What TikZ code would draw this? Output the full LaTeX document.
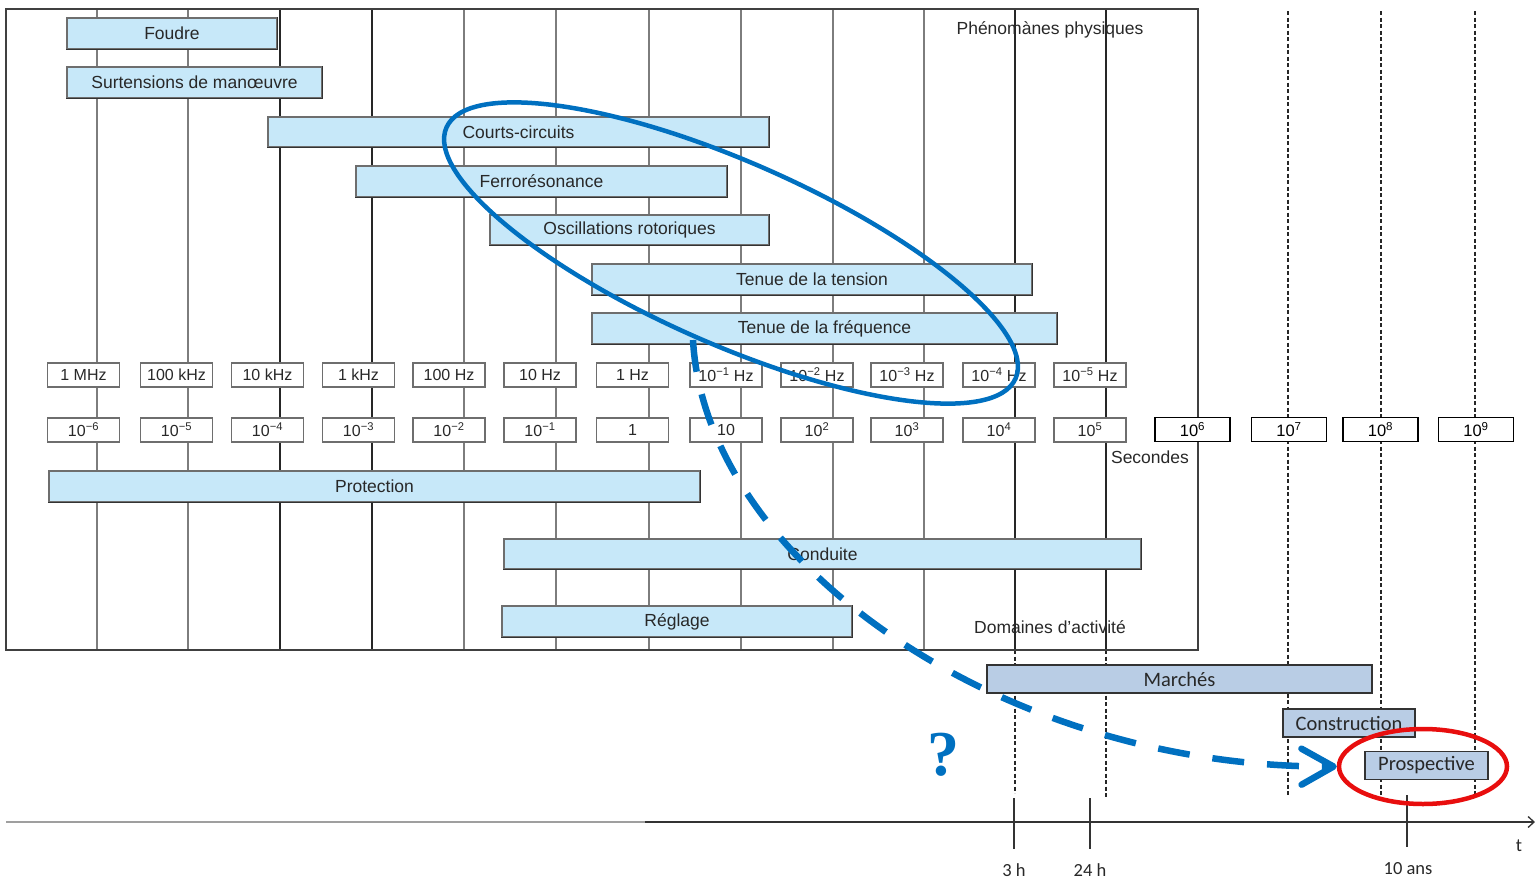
\documentclass[tikz,border=0pt]{standalone}
\usepackage{fontspec}
\setmainfont{Liberation Sans}
\newfontfamily\calfont{Carlito}
\newfontfamily\qfont{Liberation Serif}
\usetikzlibrary{arrows.meta,shapes.geometric}

\definecolor{phenfill}{RGB}{199,232,249}
\definecolor{domfill}{RGB}{185,205,229}
\definecolor{boxedge}{RGB}{110,110,110}
\definecolor{gridgray}{RGB}{125,125,125}
\definecolor{hlblue}{RGB}{0,112,192}
\definecolor{ringred}{RGB}{232,14,14}
\definecolor{ink}{RGB}{40,40,40}

\tikzset{
  bar/.style={draw=boxedge, line width=1.1pt, fill=phenfill, inner sep=0pt, text=ink,
    font=\fontsize{17.5}{20}\selectfont},
  barshade/.style={draw=black!80, line width=1.7pt, line cap=rect},
  tag/.style={draw=boxedge, line width=1.2pt, fill=white, inner sep=0pt,
    minimum width=72pt, minimum height=24pt, text=ink, font=\fontsize{16}{18}\selectfont},
  bigtag/.style={draw=black, line width=1.8pt, fill=white, inner sep=0pt,
    minimum width=75pt, minimum height=24pt, text=black, font=\fontsize{16.5}{18}\selectfont},
  activity/.style={draw=black!80, line width=1.5pt, fill=domfill, inner sep=0pt, text=ink,
    font=\calfont\fontsize{20.5}{24}\selectfont},
  caption/.style={text=ink, inner sep=0pt, font=\fontsize{17.5}{20}\selectfont},
  axislabel/.style={text=ink, inner sep=0pt, font=\calfont\fontsize{18.5}{20}\selectfont},
  gridline/.style={draw=gridgray, line width=1.1pt},
  gridstrong/.style={draw=black!85, line width=1.4pt},
  dashline/.style={draw=black!85, line width=1.3pt, dash pattern=on 4pt off 2.5pt},
  tick/.style={draw=black!80, line width=1.3pt},
  flow/.style={draw=hlblue, line width=6.5pt, dash pattern=on 32pt off 23pt,
    -{Straight Barb[length=32pt 0 0, width=36pt 0 0, line width=6.5pt, round]}},
}

\begin{document}
\begin{tikzpicture}[x=1pt, y=-1pt]
\useasboundingbox (0,0) rectangle (1535,881);

% vertical scale lines inside the frame
\foreach \x in {97,188,464,556,649,741,833,924}
  \draw[gridline] (\x,9) -- (\x,650);
\foreach \x in {280,372,1015,1106}
  \draw[gridstrong] (\x,9) -- (\x,650);

% dashed scale lines for the long time ranges
\foreach \x in {1288,1381,1475}
  \draw[dashline] (\x,11) -- (\x,795);
\draw[dashline] (1015,650) -- (1015,793);
\draw[dashline] (1106,650) -- (1106,797);

% frame of the physical phenomena / activities chart
\draw[draw=black!75, line width=1.6pt] (6,9) rectangle (1198,650);

% physical phenomena
\node[bar, minimum width=210pt, minimum height=31pt] (foudre) at (172,33.5) {Foudre};
\node[bar, minimum width=255pt, minimum height=31pt] (surt) at (194.5,82.5) {Surtensions de manœuvre};
\node[bar, minimum width=501pt, minimum height=30pt] (cc) at (518.5,132) {Courts-circuits};
\node[bar, minimum width=371pt, minimum height=31pt] (ferro) at (541.5,181.5) {Ferrorésonance};
\node[bar, minimum width=279pt, minimum height=30pt] (osc) at (629.5,230) {Oscillations rotoriques};
\node[bar, minimum width=440pt, minimum height=31pt] (tens) at (812,279.5) {Tenue de la tension};
\node[bar, minimum width=465pt, minimum height=31pt] (freq) at (824.5,328.5) {Tenue de la fréquence};

% activities
\node[bar, minimum width=651pt, minimum height=31pt] (prot) at (374.5,486.5) {Protection};
\node[bar, minimum width=637pt, minimum height=30pt] (cond) at (822.5,554) {Conduite};
\node[bar, minimum width=350pt, minimum height=31pt] (regl) at (677,621.5) {Réglage};

\foreach \n in {foudre,surt,cc,ferro,osc,tens,freq,prot,cond,regl}
  \draw[barshade] (\n.south west) -- (\n.south east) -- (\n.north east);

% frequency scale
\foreach \x/\t [count=\i] in {83.5/{1 MHz},176.5/{100 kHz},267.5/{10 kHz},358.5/{1 kHz},
    449/{100 Hz},540/{10 Hz},632.5/{1 Hz},726/{10\textsuperscript{−1} Hz},
    817/{10\textsuperscript{−2} Hz},907/{10\textsuperscript{−3} Hz},
    999/{10\textsuperscript{−4} Hz},1090/{10\textsuperscript{−5} Hz}}
  \node[tag] (hz\i) at (\x,375) {\t};

% time scale in seconds
\foreach \x/\t [count=\i] in {83.5/{10\textsuperscript{−6}},176.5/{10\textsuperscript{−5}},
    267.5/{10\textsuperscript{−4}},358.5/{10\textsuperscript{−3}},449/{10\textsuperscript{−2}},
    540/{10\textsuperscript{−1}},632.5/{1},726/{10},817/{10\textsuperscript{2}},
    907/{10\textsuperscript{3}},999/{10\textsuperscript{4}},1090/{10\textsuperscript{5}}}
  \node[tag] (sec\i) at (\x,430) {\t};

\node[bigtag] (s6) at (1192.5,429.5) {10\textsuperscript{6}};
\node[bigtag] (s7) at (1289,429.5) {10\textsuperscript{7}};
\node[bigtag] (s8) at (1380.5,429.5) {10\textsuperscript{8}};
\node[bigtag] (s9) at (1476,429.5) {10\textsuperscript{9}};

\node[caption] (phys) at (1050,30) {Phénomànes physiques};
\node[caption] (secs) at (1150,457) {Secondes};
\node[caption] (doms) at (1050,627) {Domaines d’activité};

% long-term activities
\node[activity, minimum width=385pt, minimum height=28pt] (march) at (1179.5,679) {Marchés};
\node[activity, minimum width=132pt, minimum height=28pt] (constr) at (1349,723) {Construction};
\node[activity, minimum width=123pt, minimum height=28pt] (prosp) at (1426.5,765.5) {Prospective};

% time axis
\draw[draw=gray!75, line width=1.3pt] (6,822) -- (645,822);
\draw[draw=black!80, line width=1.3pt, -{Straight Barb[length=6pt, width=11pt]}] (645,822) -- (1535,822);
\draw[tick] (1014,798) -- (1014,849);
\draw[tick] (1090,798) -- (1090,849);
\draw[tick] (1407,795) -- (1407,847);
\node[axislabel] (t3h) at (1014,870) {3 h};
\node[axislabel] (t24h) at (1090,870) {24 h};
\node[axislabel] (t10a) at (1408,869) {10 ans};
\node[axislabel] (taxis) at (1519,846) {t};

% highlighted group and its projection to long-term planning
\node[draw=hlblue, line width=4.5pt, ellipse, rotate=-23.8, minimum width=622pt,
      minimum height=182pt, inner sep=0pt] (focus) at (731,253) {};
\node[draw=ringred, line width=4.5pt, ellipse, minimum width=168pt, minimum height=75pt,
      inner sep=0pt] (ring) at (1423,766.5) {};
\coordinate (src) at (693,340);
\draw[flow] (src) .. controls (705,560) and (1000,768) .. (ring.west);
\node[text=hlblue, inner sep=0pt, font=\qfont\bfseries\fontsize{64}{70}\selectfont] (query) at (943,755) {?};
\end{tikzpicture}
\end{document}
